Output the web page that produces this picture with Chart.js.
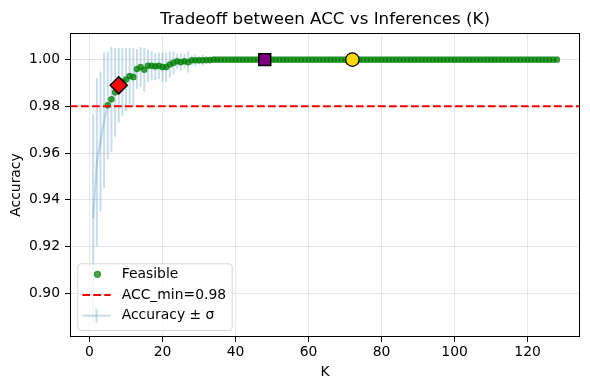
<!DOCTYPE html>
<html>
<head>
<meta charset="utf-8">
<title>Tradeoff between ACC vs Inferences (K)</title>
<script src="https://cdn.jsdelivr.net/npm/chart.js@4.4.1/dist/chart.umd.min.js"></script>
<style>
  html, body { margin: 0; padding: 0; background: #fff; }
  #wrap { width: 590px; height: 390px; }
</style>
</head>
<body>
<div id="wrap"><canvas id="tradeoffChart" width="590" height="390"></canvas></div>
<script>
const kValues = [
  1, 2, 3, 4, 5, 6, 7, 8, 9, 10, 11, 12, 13, 14, 15, 16,
  17, 18, 19, 20, 21, 22, 23, 24, 25, 26, 27, 28, 29, 30, 31, 32,
  33, 34, 35, 36, 37, 38, 39, 40, 41, 42, 43, 44, 45, 46, 47, 48,
  49, 50, 51, 52, 53, 54, 55, 56, 57, 58, 59, 60, 61, 62, 63, 64,
  65, 66, 67, 68, 69, 70, 71, 72, 73, 74, 75, 76, 77, 78, 79, 80,
  81, 82, 83, 84, 85, 86, 87, 88, 89, 90, 91, 92, 93, 94, 95, 96,
  97, 98, 99, 100, 101, 102, 103, 104, 105, 106, 107, 108, 109, 110, 111, 112,
  113, 114, 115, 116, 117, 118, 119, 120, 121, 122, 123, 124, 125, 126, 127, 128
];

const accuracyMean = [
  0.932, 0.956, 0.965, 0.974, 0.9805, 0.983, 0.986, 0.989,
  0.9905, 0.9915, 0.993, 0.9925, 0.996, 0.9968, 0.9957, 0.9974,
  0.9974, 0.9971, 0.9974, 0.9968, 0.9968, 0.9979, 0.9986, 0.9993,
  0.9989, 0.9993, 0.9989, 0.9997, 0.9997, 0.9997, 0.9997, 0.9998,
  0.9998, 1.0, 1.0, 1.0, 1.0, 1.0, 1.0, 1.0,
  1.0, 1.0, 1.0, 1.0, 1.0, 1.0, 1.0, 1.0,
  1.0, 1.0, 1.0, 1.0, 1.0, 1.0, 1.0, 1.0,
  1.0, 1.0, 1.0, 1.0, 1.0, 1.0, 1.0, 1.0,
  1.0, 1.0, 1.0, 1.0, 1.0, 1.0, 1.0, 1.0,
  1.0, 1.0, 1.0, 1.0, 1.0, 1.0, 1.0, 1.0,
  1.0, 1.0, 1.0, 1.0, 1.0, 1.0, 1.0, 1.0,
  1.0, 1.0, 1.0, 1.0, 1.0, 1.0, 1.0, 1.0,
  1.0, 1.0, 1.0, 1.0, 1.0, 1.0, 1.0, 1.0,
  1.0, 1.0, 1.0, 1.0, 1.0, 1.0, 1.0, 1.0,
  1.0, 1.0, 1.0, 1.0, 1.0, 1.0, 1.0, 1.0,
  1.0, 1.0, 1.0, 1.0, 1.0, 1.0, 1.0, 1.0
];

const accuracyStd = [
  0.0448, 0.036, 0.030, 0.029, 0.023, 0.0225, 0.019, 0.016,
  0.0145, 0.0135, 0.012, 0.0125, 0.0085, 0.0085, 0.0094, 0.007,
  0.0063, 0.0059, 0.0057, 0.0063, 0.0063, 0.0056, 0.0048, 0.0032,
  0.0038, 0.0032, 0.0046, 0.0021, 0.0025, 0.0018, 0.0023, 0.0017,
  0.0015, 0.0012, 0.0010, 0, 0, 0, 0, 0,
  0, 0, 0, 0, 0, 0, 0, 0,
  0, 0, 0, 0, 0, 0, 0, 0,
  0, 0, 0, 0, 0, 0, 0, 0,
  0, 0, 0, 0, 0, 0, 0, 0,
  0, 0, 0, 0, 0, 0, 0, 0,
  0, 0, 0, 0, 0, 0, 0, 0,
  0, 0, 0, 0, 0, 0, 0, 0,
  0, 0, 0, 0, 0, 0, 0, 0,
  0, 0, 0, 0, 0, 0, 0, 0,
  0, 0, 0, 0, 0, 0, 0, 0,
  0, 0, 0, 0, 0, 0, 0, 0
];

// highlighted choices: diamond, square, circle
const markerK = [8, 48, 72];
const markerAcc = [0.989, 1.0, 1.0];

const accMin = 0.98;

const xTicks = [0, 20, 40, 60, 80, 100, 120];
const yTicks = [0.90, 0.92, 0.94, 0.96, 0.98, 1.00];
const xLimits = [-5.35, 134.35];
const yLimits = [0.8813, 1.0114];

const fontFamily = "'DejaVu Sans', 'Liberation Sans', sans-serif";
const errBlue = "rgba(31, 119, 180, 0.25)";
const feasibleGreen = "rgba(0, 128, 0, 0.7)";

Chart.defaults.font.family = fontFamily;
Chart.defaults.color = "#000";

const meanPoints = kValues.map((k, i) => ({ x: k, y: accuracyMean[i] }));
const feasiblePoints = meanPoints.filter((p) => p.y >= accMin);

const errorBarPlugin = {
  id: "errorBars",
  beforeDatasetsDraw(chart) {
    const { ctx, scales: { x, y } } = chart;
    ctx.save();
    ctx.strokeStyle = errBlue;
    ctx.lineWidth = 2;
    kValues.forEach((k, i) => {
      const sd = accuracyStd[i];
      if (!sd) return;
      const px = x.getPixelForValue(k);
      ctx.beginPath();
      ctx.moveTo(px, y.getPixelForValue(accuracyMean[i] - sd));
      ctx.lineTo(px, y.getPixelForValue(accuracyMean[i] + sd));
      ctx.stroke();
    });
    ctx.restore();
  }
};

const framePlugin = {
  id: "frameAndTitle",
  afterDraw(chart) {
    const { ctx, chartArea: a } = chart;
    ctx.save();
    ctx.strokeStyle = "#000";
    ctx.lineWidth = 1;
    ctx.strokeRect(Math.round(a.left) + 0.5, Math.round(a.top) + 0.5,
      Math.round(a.right - a.left) - 1, Math.round(a.bottom - a.top) - 1);

    ctx.fillStyle = "#000";
    ctx.font = "16.7px " + fontFamily;
    ctx.textAlign = "center";
    ctx.textBaseline = "alphabetic";
    ctx.fillText("Tradeoff between ACC vs Inferences (K)", (a.left + a.right) / 2, a.top - 9);
    ctx.restore();
  }
};

const legendPlugin = {
  id: "boxLegend",
  afterDraw(chart) {
    const { ctx, chartArea: a } = chart;
    const w = 154.4;
    const h = 66.7;
    const left = a.left + 7.3;
    const top = a.bottom - 7 - h;
    const handleL = left + 5;
    const handleR = left + 33.4;
    const handleC = (handleL + handleR) / 2;
    const textX = left + 44.4;
    const rows = [top + 11, top + 31.7, top + 52.4];

    ctx.save();
    ctx.beginPath();
    ctx.roundRect(left + 0.5, top + 0.5, w, h, 3);
    ctx.fillStyle = "rgba(255, 255, 255, 0.8)";
    ctx.fill();
    ctx.strokeStyle = "rgba(204, 204, 204, 0.8)";
    ctx.lineWidth = 1;
    ctx.stroke();

    // Feasible
    ctx.beginPath();
    ctx.arc(handleC + 1, rows[0], 3, 0, Math.PI * 2);
    ctx.fillStyle = feasibleGreen;
    ctx.fill();
    ctx.strokeStyle = feasibleGreen;
    ctx.lineWidth = 1.2;
    ctx.stroke();

    // ACC_min
    ctx.beginPath();
    ctx.setLineDash([7.7, 3.3]);
    ctx.moveTo(handleL, rows[1]);
    ctx.lineTo(handleR, rows[1]);
    ctx.strokeStyle = "red";
    ctx.lineWidth = 2;
    ctx.stroke();
    ctx.setLineDash([]);

    // Accuracy ± σ
    ctx.strokeStyle = errBlue;
    ctx.lineWidth = 2;
    ctx.beginPath();
    ctx.moveTo(handleL, rows[2]);
    ctx.lineTo(handleR, rows[2]);
    ctx.stroke();
    ctx.beginPath();
    ctx.moveTo(handleC, rows[2] - 7);
    ctx.lineTo(handleC, rows[2] + 7);
    ctx.stroke();

    ctx.fillStyle = "#000";
    ctx.font = "13.9px " + fontFamily;
    ctx.textAlign = "left";
    ctx.textBaseline = "middle";
    ctx.fillText("Feasible", textX, rows[0]);
    ctx.fillText("ACC_min=0.98", textX, rows[1]);
    ctx.fillText("Accuracy \u00b1 \u03c3", textX, rows[2]);
    ctx.restore();
  }
};

const ctx = document.getElementById("tradeoffChart").getContext("2d");

new Chart(ctx, {
  type: "scatter",
  data: {
    datasets: [
      {
        type: "line",
        label: "Accuracy ± σ",
        data: meanPoints,
        borderColor: errBlue,
        borderWidth: 2,
        pointRadius: 0,
        fill: false,
        tension: 0,
        order: 6
      },
      {
        label: "Feasible",
        data: feasiblePoints,
        backgroundColor: feasibleGreen,
        borderColor: feasibleGreen,
        borderWidth: 1.2,
        pointRadius: 2.7,
        order: 5
      },
      {
        type: "line",
        label: "ACC_min=0.98",
        data: [{ x: xLimits[0], y: accMin }, { x: xLimits[1], y: accMin }],
        borderColor: "red",
        borderWidth: 2,
        borderDash: [7.7, 3.3],
        pointRadius: 0,
        fill: false,
        order: 4
      },
      {
        label: "diamond",
        data: [{ x: markerK[0], y: markerAcc[0] }],
        pointStyle: "rectRot",
        pointRadius: 8.5,
        backgroundColor: "red",
        borderColor: "#000",
        borderWidth: 1.5,
        order: 3
      },
      {
        label: "square",
        data: [{ x: markerK[1], y: markerAcc[1] }],
        pointStyle: "rect",
        pointRadius: 8.4,
        backgroundColor: "#800080",
        borderColor: "#000",
        borderWidth: 1.5,
        order: 2
      },
      {
        label: "circle",
        data: [{ x: markerK[2], y: markerAcc[2] }],
        pointStyle: "circle",
        pointRadius: 6.7,
        backgroundColor: "#FFD700",
        borderColor: "#000",
        borderWidth: 1.3,
        order: 1
      }
    ]
  },
  options: {
    responsive: false,
    animation: false,
    devicePixelRatio: 1,
    layout: {
      padding: { top: 33, right: 9, left: 0, bottom: 0 }
    },
    plugins: {
      legend: { display: false },
      tooltip: { enabled: false },
      title: { display: false }
    },
    scales: {
      x: {
        type: "linear",
        bounds: "data",
        min: xLimits[0],
        max: xLimits[1],
        afterBuildTicks: (scale) => {
          scale.ticks = xTicks.map((v) => ({ value: v }));
        },
        afterFit: (scale) => {
          scale.height = 53;
        },
        ticks: {
          font: { size: 13.9 },
          padding: 2,
          maxRotation: 0,
          callback: (value) => String(value)
        },
        grid: {
          color: "rgba(176, 176, 176, 0.3)",
          lineWidth: 1,
          tickColor: "#000",
          tickLength: 5,
          tickWidth: 1
        },
        border: { display: false },
        title: {
          display: true,
          text: "K",
          font: { size: 13.9 },
          padding: { top: 0, bottom: 9.7 }
        }
      },
      y: {
        type: "linear",
        bounds: "data",
        min: yLimits[0],
        max: yLimits[1],
        afterBuildTicks: (scale) => {
          scale.ticks = yTicks.map((v) => ({ value: v }));
        },
        afterFit: (scale) => {
          scale.width = 70;
        },
        ticks: {
          font: { size: 13.9 },
          padding: 5,
          callback: (value) => Number(value).toFixed(2)
        },
        grid: {
          color: "rgba(176, 176, 176, 0.3)",
          lineWidth: 1,
          tickColor: "#000",
          tickLength: 5,
          tickWidth: 1
        },
        border: { display: false },
        title: {
          display: true,
          text: "Accuracy",
          font: { size: 13.9 },
          padding: { top: 8.35, bottom: 0 }
        }
      }
    }
  },
  plugins: [errorBarPlugin, framePlugin, legendPlugin]
});
</script>
</body>
</html>
